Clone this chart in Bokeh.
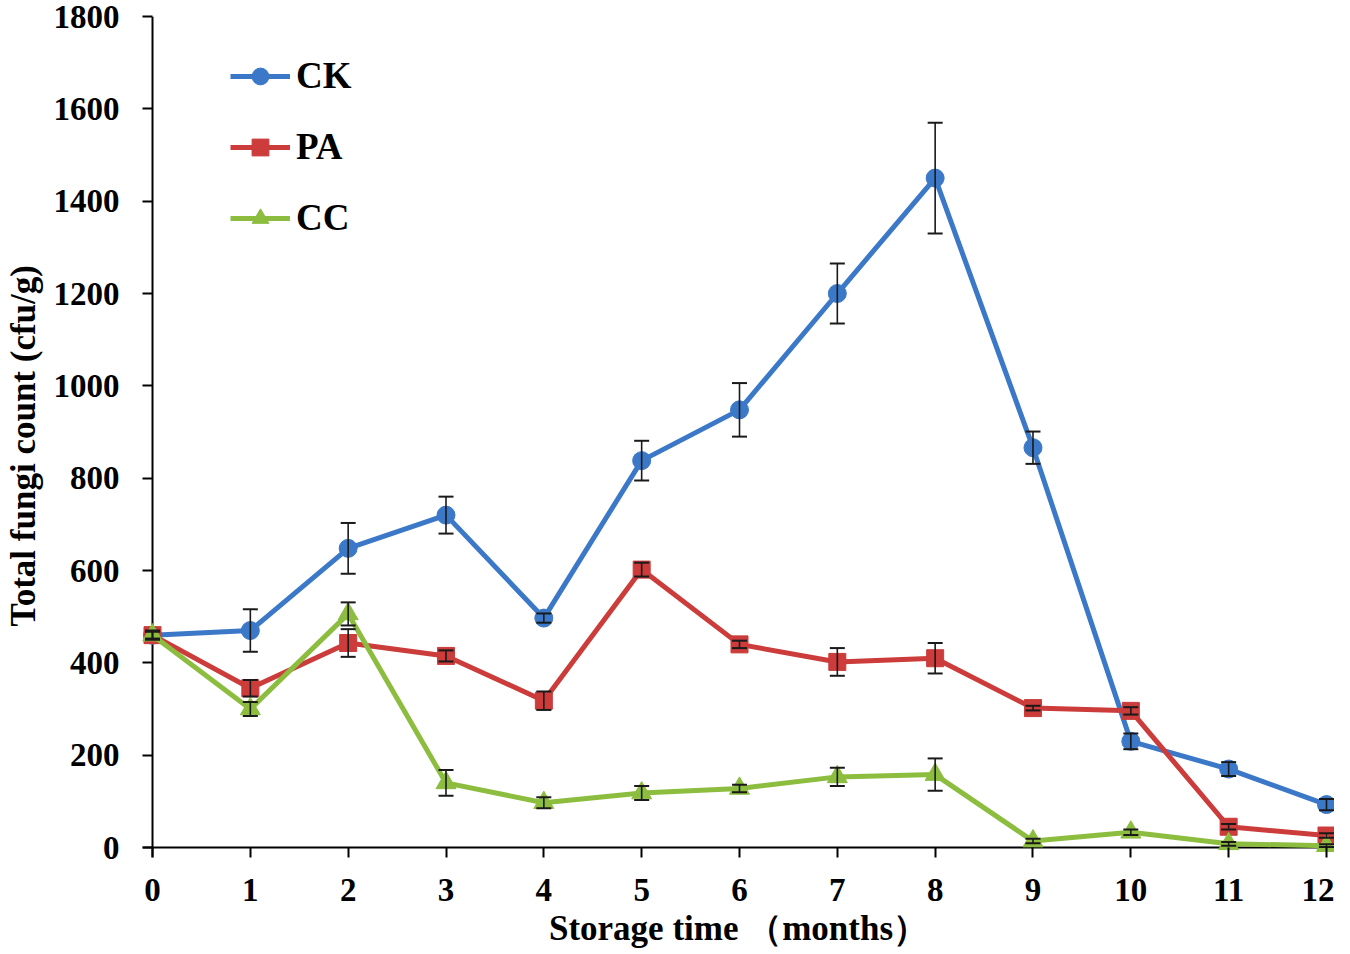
from bokeh.plotting import figure
from bokeh.embed import file_html
from bokeh.resources import INLINE
from bokeh.models import Legend, LegendItem, FixedTicker, Span

months = list(range(13))
ck = [460, 470, 648, 720, 497, 838, 948, 1200, 1450, 866, 230, 170, 93]
ck_err = [8, 46, 55, 40, 10, 43, 58, 65, 120, 35, 17, 15, 12]
pa = [460, 345, 443, 415, 318, 602, 440, 402, 410, 302, 296, 45, 26]
pa_err = [10, 18, 30, 12, 20, 15, 8, 30, 33, 5, 8, 6, 5]
cc = [460, 300, 506, 140, 97, 118, 128, 153, 158, 14, 33, 8, 4]
cc_err = [8, 15, 25, 28, 12, 15, 8, 20, 35, 5, 6, 4, 3]
y_ticks = [0, 200, 400, 600, 800, 1000, 1200, 1400, 1600, 1800]

FONT = "Liberation Serif"

p = figure(width=1334, height=950, output_backend="svg", toolbar_location=None,
           x_range=(-0.1023, 12.082), y_range=(-21.6, 1800),
           min_border_left=139, min_border_right=0, min_border_top=16, min_border_bottom=92)
p.outline_line_color = None
p.xgrid.visible = False
p.ygrid.visible = False

for ax in (p.xaxis[0], p.yaxis[0]):
    ax.axis_line_color = None
    ax.major_tick_line_color = "black"
    ax.major_tick_line_width = 2
    ax.major_tick_out = 0
    ax.major_tick_in = 10
    ax.minor_tick_line_color = None
    ax.major_label_text_font = FONT
    ax.major_label_text_font_style = "bold"
    ax.major_label_text_font_size = "33px"
    ax.major_label_text_color = "black"
    ax.axis_label_text_font = FONT
    ax.axis_label_text_font_style = "bold"
    ax.axis_label_text_font_size = "35px"
    ax.axis_label_text_color = "black"

p.xaxis[0].ticker = FixedTicker(ticks=months)
p.yaxis[0].ticker = FixedTicker(ticks=y_ticks)
p.xaxis[0].major_label_standoff = 21
p.yaxis[0].major_label_standoff = 23
p.xaxis[0].axis_label = "Storage time （months）"
p.yaxis[0].axis_label = "Total fungi count (cfu/g)\u00a0\u00a0"
p.xaxis[0].axis_label_standoff = 5
p.yaxis[0].axis_label_standoff = 8

# axis lines through the origin
p.add_layout(Span(location=0, dimension="height", line_color="black", line_width=2, level="underlay"))
p.add_layout(Span(location=0, dimension="width", line_color="black", line_width=2, level="underlay"))

series = [
    ("CK", ck, ck_err, "#3b78c8", "circle", 18),
    ("PA", pa, pa_err, "#cb3c3a", "square", 17),
    ("CC", cc, cc_err, "#8cbd3f", "triangle", 20),
]

items = []
for name, vals, errs, color, marker, size in series:
    l = p.line(months, vals, line_color=color, line_width=5)
    s = p.scatter(months, vals, marker=marker, size=size, fill_color=color, line_color=color)
    items.append(LegendItem(label=name, renderers=[l, s]))

for name, vals, errs, color, marker, size in series:
    lo = [v - e for v, e in zip(vals, errs)]
    hi = [v + e for v, e in zip(vals, errs)]
    p.segment(x0=months, y0=lo, x1=months, y1=hi, line_color="#1a1a1a", line_width=1.6)
    p.scatter(months, lo, marker="dash", size=15, line_color="#1a1a1a", line_width=2)
    p.scatter(months, hi, marker="dash", size=15, line_color="#1a1a1a", line_width=2)

legend = Legend(items=items, location=(88, 618))
legend.border_line_color = None
legend.background_fill_alpha = 0
legend.padding = 0
legend.margin = 0
legend.spacing = 28
legend.glyph_width = 60
legend.glyph_height = 42
legend.label_height = 42
legend.label_standoff = 6
legend.label_text_font = FONT
legend.label_text_font_style = "bold"
legend.label_text_font_size = "37px"
legend.label_text_color = "black"
p.add_layout(legend, "center")

open("out.html", "w").write(file_html(p, INLINE))
